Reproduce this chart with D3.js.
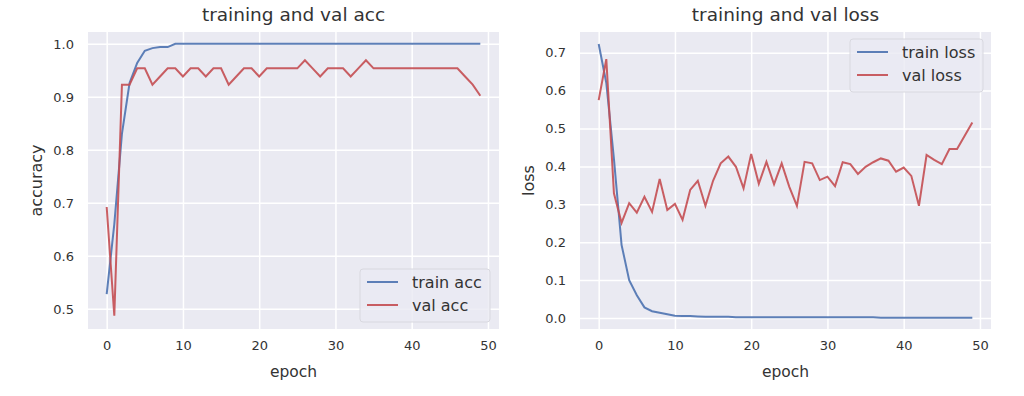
<!DOCTYPE html>
<html><head><meta charset="utf-8">
<script src="https://cdn.jsdelivr.net/npm/d3@7"></script>
<style>body{margin:0;background:#fff;} svg{display:block;} text{font-family:"DejaVu Sans",sans-serif;fill:#333;}</style>
</head><body>
<svg id="c" width="1024" height="396"></svg>
<script>
const epochs = d3.range(0, 50);
const trainAcc = [0.528,0.66,0.83,0.926,0.964,0.987,0.992,0.994,0.994,1.0,
  1,1,1,1,1,1,1,1,1,1, 1,1,1,1,1,1,1,1,1,1, 1,1,1,1,1,1,1,1,1,1, 1,1,1,1,1,1,1,1,1,1];
const valAcc = [0.6923,0.487,0.9231,0.9231,0.9538,0.9538,0.9231,0.9385,0.9538,0.9538,
  0.9385,0.9538,0.9538,0.9385,0.9538,0.9538,0.9231,0.9385,0.9538,0.9538,
  0.9385,0.9538,0.9538,0.9538,0.9538,0.9538,0.9692,0.9538,0.9385,0.9538,
  0.9538,0.9538,0.9385,0.9538,0.9692,0.9538,0.9538,0.9538,0.9538,0.9538,
  0.9538,0.9538,0.9538,0.9538,0.9538,0.9538,0.9538,0.9385,0.9231,0.902];
const trainLoss = [0.723,0.62,0.42,0.193,0.10,0.06,0.028,0.018,0.014,0.010,
  0.006,0.005,0.005,0.004,0.003,0.003,0.003,0.003,0.002,0.002,
  0.002,0.002,0.002,0.002,0.002,0.002,0.002,0.002,0.002,0.002,
  0.002,0.002,0.002,0.002,0.002,0.002,0.002,0.001,0.001,0.001,
  0.001,0.001,0.001,0.001,0.001,0.001,0.001,0.001,0.001,0.001];
const valLoss = [0.575,0.683,0.329,0.251,0.303,0.278,0.32,0.28,0.367,0.285,
  0.301,0.259,0.338,0.362,0.296,0.362,0.408,0.426,0.399,0.342,
  0.433,0.354,0.412,0.353,0.408,0.346,0.296,0.412,0.408,0.364,
  0.373,0.348,0.411,0.406,0.38,0.399,0.411,0.421,0.415,0.386,
  0.397,0.375,0.296,0.43,0.417,0.406,0.446,0.446,0.481,0.516];
const xTicks = [0,10,20,30,40,50];
const accTicks = [0.5,0.6,0.7,0.8,0.9,1.0];
const lossTicks = [0.0,0.1,0.2,0.3,0.4,0.5,0.6,0.7];

const BLUE = "#4C72B0", RED = "#C44E52";
const svg = d3.select("#c");

function panel(o) {
  const x = d3.scaleLinear().domain([-2.45, 51.45]).range([o.left, o.right]);
  const y = d3.scaleLinear().domain(o.ydom).range([o.bottom, o.top]);
  const g = svg.append("g");
  g.append("rect").attr("x", o.left).attr("y", o.top)
    .attr("width", o.right - o.left).attr("height", o.bottom - o.top).attr("fill", "#EAEAF2");
  g.append("g").attr("transform", `translate(0,${o.bottom})`)
    .call(d3.axisBottom(x).tickValues(xTicks).tickSize(-(o.bottom - o.top)).tickFormat(d3.format("d")).tickPadding(12))
    .call(a => { a.select(".domain").remove(); a.selectAll("line").attr("stroke", "#fff").attr("stroke-width", 1.5);
      a.selectAll("text").attr("font-size", 13).attr("fill", "#333").attr("font-family", "DejaVu Sans"); });
  g.append("g").attr("transform", `translate(${o.left},0)`)
    .call(d3.axisLeft(y).tickValues(o.yticks).tickSize(-(o.right - o.left)).tickFormat(d3.format(".1f")).tickPadding(14))
    .call(a => { a.select(".domain").remove(); a.selectAll("line").attr("stroke", "#fff").attr("stroke-width", 1.5);
      a.selectAll("text").attr("font-size", 13).attr("fill", "#333").attr("font-family", "DejaVu Sans"); });
  const line = d3.line().x((d, i) => x(epochs[i])).y(d => y(d));
  g.append("path").datum(o.s1).attr("d", line).attr("fill", "none").attr("stroke", BLUE).attr("stroke-width", 2).attr("stroke-opacity", 0.9);
  g.append("path").datum(o.s2).attr("d", line).attr("fill", "none").attr("stroke", RED).attr("stroke-width", 2).attr("stroke-opacity", 0.9);
  const cx = (o.left + o.right) / 2;
  g.append("text").attr("x", cx).attr("y", 21).attr("text-anchor", "middle").attr("font-size", 18.5).text(o.title);
  g.append("text").attr("x", cx).attr("y", 377).attr("text-anchor", "middle").attr("font-size", 15.5).text("epoch");
  g.append("text").attr("transform", `translate(${o.left - 46},${(o.top + o.bottom) / 2}) rotate(-90)`)
    .attr("text-anchor", "middle").attr("font-size", 16).text(o.ylabel);
  const L = o.legend;
  const lg = g.append("g");
  lg.append("rect").attr("x", L.x).attr("y", L.y).attr("width", L.w).attr("height", L.h).attr("rx", 3)
    .attr("fill", "#EAEAF2").attr("fill-opacity", 0.8).attr("stroke", "#d8d8df");
  o.labels.forEach((t, i) => {
    const yy = L.y + 13 + i * 23;
    lg.append("line").attr("x1", L.x + 7).attr("x2", L.x + 38).attr("y1", yy).attr("y2", yy)
      .attr("stroke", i ? RED : BLUE).attr("stroke-width", 2).attr("stroke-opacity", 0.9);
    lg.append("text").attr("x", L.x + 52).attr("y", yy + 5.5).attr("font-size", 16).text(t);
  });
}

panel({left: 88, right: 499, top: 32, bottom: 329, ydom: [0.462, 1.0224], yticks: accTicks,
  s1: trainAcc, s2: valAcc, title: "training and val acc", ylabel: "accuracy",
  labels: ["train acc", "val acc"], legend: {x: 360, y: 269, w: 130, h: 53}});
panel({left: 580, right: 991, top: 32, bottom: 329, ydom: [-0.0290, 0.7546], yticks: lossTicks,
  s1: trainLoss, s2: valLoss, title: "training and val loss", ylabel: "loss",
  labels: ["train loss", "val loss"], legend: {x: 850, y: 39, w: 133, h: 53}});
</script>
</body></html>
